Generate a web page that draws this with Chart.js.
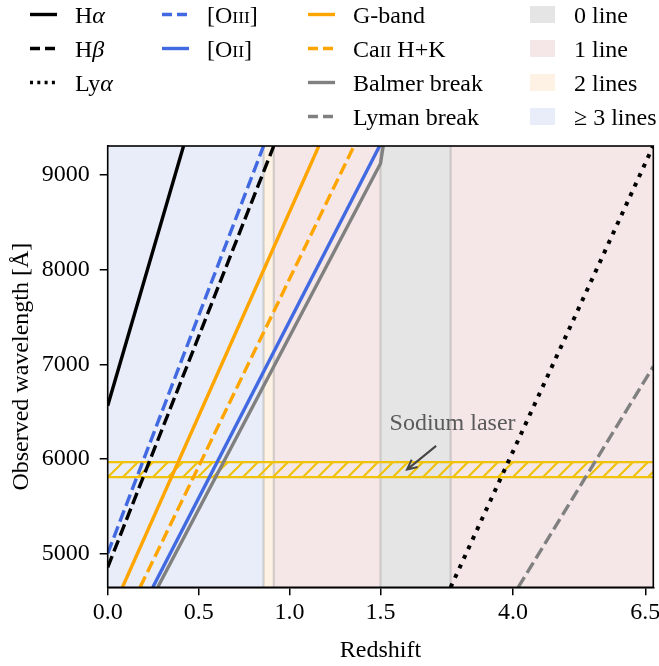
<!DOCTYPE html>
<html>
<head>
<meta charset="utf-8">
<script src="https://cdn.jsdelivr.net/npm/chart.js@4.4.0/dist/chart.umd.min.js"></script>
<style>html,body{margin:0;padding:0;background:#fff}</style>
</head>
<body>
<canvas id="chart" width="659" height="666"></canvas>
<script>
// axis limits and ticks
const Y_MIN = 4650, Y_MAX = 9300;
const Z_SPLIT = 1.5, Z_MAX = 6.65;
const xTicks = [0.0, 0.5, 1.0, 1.5, 4.0, 6.5];
const yTicks = [5000, 6000, 7000, 8000, 9000];

// [redshift, observed wavelength] for each feature
const hAlpha = [[0, 6563], [0.417, 9300]];
const hBeta = [[0, 4861], [0.913, 9300]];
const lyAlpha = [[2.824, 4650], [6.648, 9300]];
const oIII = [[0, 5007], [0.857, 9300]];
const oII = [[0.248, 4650], [1.495, 9300]];
const gBand = [[0.081, 4650], [1.161, 9300]];
const caHK = [[0.178, 4650], [1.354, 9300]];
const balmerBreak = [[0.275, 4650], [1.5, 9115], [1.551, 9300]];
const lymanBreak = [[4.099, 4650], [6.65, 6977]];

// redshift bands and how many lines fall in the window
const bandStart = [0, 0.857, 0.913, 1.5, 2.824];
const bandEnd = [0.857, 0.913, 1.5, 2.824, 6.65];
const bandCount = [3, 2, 1, 0, 1];
const bandEdges = [0.857, 0.913, 1.5, 2.824];

// sodium laser wavelength window
const sodiumLaser = [5810, 5970];
const sodiumText = [2.86, 6370];
const sodiumArrow = [[2.55, 6140], [2.0, 5890]];

const FONT = "'Liberation Serif', 'Times New Roman', serif";
const bandColors = ['#e5e5e5', '#f5e7e8', '#fdf2e4', '#e9edf9'];
const GOLD = '#f0c20a';

// x axis: linear up to z=1.5, then squeezed into the right half
function warp(z) { return z <= Z_SPLIT ? z / Z_SPLIT : 1 + (z - Z_SPLIT) / (Z_MAX - Z_SPLIT); }
function unwarp(u) { return u <= 1 ? u * Z_SPLIT : Z_SPLIT + (u - 1) * (Z_MAX - Z_SPLIT); }

class SplitScale extends Chart.LinearScale {
  getPixelForValue(v) { return this.getPixelForDecimal(warp(v) / 2); }
  getValueForPixel(p) { return unwarp(this.getDecimalForPixel(p) * 2); }
}
SplitScale.id = 'split';
SplitScale.defaults = { ticks: { callback: Chart.Ticks.formatters.numeric } };
Chart.register(SplitScale);

function hatch(color) {
  const c = document.createElement('canvas');
  c.width = 15; c.height = 15;
  const g = c.getContext('2d');
  g.strokeStyle = color;
  g.lineWidth = 2.2;
  g.beginPath();
  g.moveTo(-2, 17); g.lineTo(17, -2);
  g.moveTo(-2, 2); g.lineTo(2, -2);
  g.moveTo(13, 17); g.lineTo(17, 13);
  g.stroke();
  return g.createPattern(c, 'repeat');
}

const pts = arr => arr.map(p => ({ x: p[0], y: p[1] }));

const features = [
  { data: hAlpha, color: '#000', dash: [], width: 3.4 },
  { data: hBeta, color: '#000', dash: [12, 5], width: 3.4 },
  { data: lyAlpha, color: '#000', dash: [4, 6.5], width: 4 },
  { data: oIII, color: '#4169e1', dash: [12, 5], width: 3.4 },
  { data: oII, color: '#4169e1', dash: [], width: 3.4 },
  { data: gBand, color: '#ffa500', dash: [], width: 3.4 },
  { data: caHK, color: '#ffa500', dash: [12, 5], width: 3.4 },
  { data: balmerBreak, color: '#808080', dash: [], width: 3.4 },
  { data: lymanBreak, color: '#808080', dash: [12, 5], width: 3.4 }
];

const datasets = [];
features.forEach(f => datasets.push({
  data: pts(f.data), borderColor: f.color, borderDash: f.dash, borderWidth: f.width,
  pointRadius: 0, fill: false, order: 0, borderCapStyle: 'butt'
}));
datasets.push({
  data: pts([[0, sodiumLaser[1]], [Z_MAX, sodiumLaser[1]]]), borderColor: GOLD, borderWidth: 2.2,
  pointRadius: 0, fill: false, order: 1
});
datasets.push({
  data: pts([[0, sodiumLaser[0]], [Z_MAX, sodiumLaser[0]]]), borderColor: GOLD, borderWidth: 2.2,
  pointRadius: 0, fill: '-1', backgroundColor: hatch(GOLD), order: 1
});
bandEdges.forEach(z => datasets.push({
  data: pts([[z, Y_MIN], [z, Y_MAX]]), borderColor: 'rgba(140,140,140,0.4)', borderWidth: 2,
  pointRadius: 0, fill: false, order: 2
}));
bandStart.forEach((z0, i) => datasets.push({
  data: pts([[z0, Y_MAX], [bandEnd[i], Y_MAX]]), borderWidth: 0, pointRadius: 0,
  fill: 'start', backgroundColor: bandColors[bandCount[i]], order: 3
}));

// legend: columns of [label runs, kind, color, dash]
const legendCols = [
  { lineX: 30, textX: 75, items: [
    [[['H', 'r'], ['α', 'i']], 'line', '#000', []],
    [[['H', 'r'], ['β', 'i']], 'line', '#000', [10, 5]],
    [[['Ly', 'r'], ['α', 'i']], 'line', '#000', [3, 4.3]]
  ] },
  { lineX: 162, textX: 207, items: [
    [[['[O', 'r'], ['III', 's'], [']', 'r']], 'line', '#4169e1', [10, 5]],
    [[['[O', 'r'], ['II', 's'], [']', 'r']], 'line', '#4169e1', []]
  ] },
  { lineX: 308, textX: 353, items: [
    [[['G-band', 'r']], 'line', '#ffa500', []],
    [[['Ca', 'r'], ['II', 's'], [' H+K', 'r']], 'line', '#ffa500', [10, 5]],
    [[['Balmer break', 'r']], 'line', '#808080', []],
    [[['Lyman break', 'r']], 'line', '#808080', [10, 5]]
  ] },
  { lineX: 530, textX: 574, items: [
    [[['0 line', 'r']], 'patch', bandColors[0]],
    [[['1 line', 'r']], 'patch', bandColors[1]],
    [[['2 lines', 'r']], 'patch', bandColors[2]],
    [[['≥ 3 lines', 'r']], 'patch', bandColors[3]]
  ] }
];

function drawRuns(ctx, runs, x, y) {
  runs.forEach(([txt, kind]) => {
    if (kind === 'i') ctx.font = 'italic 24px ' + FONT;
    else if (kind === 's') ctx.font = '17.5px ' + FONT;
    else ctx.font = '24px ' + FONT;
    ctx.fillText(txt, x, y);
    x += ctx.measureText(txt).width;
  });
}

const extras = {
  id: 'extras',
  afterDatasetsDraw(chart) {
    const { ctx, scales: { x, y } } = chart;
    ctx.save();
    ctx.fillStyle = '#5a5a5a';
    ctx.font = '24px ' + FONT;
    ctx.textAlign = 'center';
    ctx.textBaseline = 'middle';
    ctx.fillText('Sodium laser', x.getPixelForValue(sodiumText[0]), y.getPixelForValue(sodiumText[1]));
    // arrow
    const x0 = x.getPixelForValue(sodiumArrow[0][0]), y0 = y.getPixelForValue(sodiumArrow[0][1]);
    const x1 = x.getPixelForValue(sodiumArrow[1][0]), y1 = y.getPixelForValue(sodiumArrow[1][1]);
    const a = Math.atan2(y1 - y0, x1 - x0);
    ctx.strokeStyle = '#444';
    ctx.lineWidth = 2;
    ctx.beginPath();
    ctx.moveTo(x0, y0); ctx.lineTo(x1, y1);
    ctx.moveTo(x1 - 11 * Math.cos(a - 0.45), y1 - 11 * Math.sin(a - 0.45));
    ctx.lineTo(x1, y1);
    ctx.lineTo(x1 - 11 * Math.cos(a + 0.45), y1 - 11 * Math.sin(a + 0.45));
    ctx.stroke();
    ctx.restore();
  },
  afterDraw(chart) {
    const { ctx, chartArea: ca } = chart;
    ctx.save();
    ctx.strokeStyle = '#000';
    ctx.lineWidth = 1.6;
    ctx.strokeRect(ca.left, ca.top, ca.right - ca.left, ca.bottom - ca.top);

    ctx.textAlign = 'left';
    ctx.textBaseline = 'alphabetic';
    ctx.fillStyle = '#000';
    legendCols.forEach(col => {
      col.items.forEach((it, r) => {
        const cy = 14.5 + r * 34;
        if (it[1] === 'line') {
          ctx.strokeStyle = it[2];
          ctx.lineWidth = 3.4;
          ctx.lineCap = 'butt';
          ctx.setLineDash(it[3]);
          ctx.beginPath();
          ctx.moveTo(col.lineX, cy); ctx.lineTo(col.lineX + 27, cy);
          ctx.stroke();
          ctx.setLineDash([]);
        } else {
          ctx.fillStyle = it[2];
          ctx.fillRect(col.lineX, cy - 8.5, 25, 17);
        }
        ctx.fillStyle = '#000';
        drawRuns(ctx, it[0], col.textX, cy + 8.3);
      });
    });
    ctx.restore();
  }
};

const tickFont = { family: FONT, size: 24 };

new Chart(document.getElementById('chart'), {
  type: 'line',
  data: { datasets },
  plugins: [extras],
  options: {
    responsive: false,
    animation: false,
    devicePixelRatio: 1,
    layout: { padding: { top: 146, right: 5.7, left: 0, bottom: 0 } },
    plugins: { legend: { display: false }, tooltip: { enabled: false } },
    scales: {
      x: {
        type: 'split', min: 0, max: Z_MAX, z: 1,
        afterBuildTicks: s => { s.ticks = xTicks.map(v => ({ value: v })); },
        afterFit: s => { s.height = 78.7; s.paddingLeft = 0; s.paddingRight = 0; },
        ticks: { autoSkip: false, maxRotation: 0, padding: 3, color: '#000', font: tickFont,
          callback: v => v.toFixed(1) },
        grid: { drawOnChartArea: false, drawTicks: true, tickLength: 8, color: '#000', lineWidth: 1.5 },
        border: { display: true, color: '#000', width: 1.6 },
        title: { display: true, text: 'Redshift', color: '#000', font: tickFont, padding: { top: 0, bottom: 0.8 } }
      },
      y: {
        type: 'linear', min: Y_MIN, max: Y_MAX, z: 1,
        afterBuildTicks: s => { s.ticks = yTicks.map(v => ({ value: v })); },
        afterFit: s => { s.width = 107.7; s.paddingTop = 0; s.paddingBottom = 0; },
        ticks: { padding: 10, color: '#000', font: tickFont, callback: v => String(v) },
        grid: { drawOnChartArea: false, drawTicks: true, tickLength: 8, color: '#000', lineWidth: 1.5 },
        border: { display: true, color: '#000', width: 1.6 },
        title: { display: true, text: 'Observed wavelength [Å]', color: '#000', font: tickFont, padding: { top: 7.6, bottom: 0 } }
      }
    }
  }
});
</script>
</body>
</html>
